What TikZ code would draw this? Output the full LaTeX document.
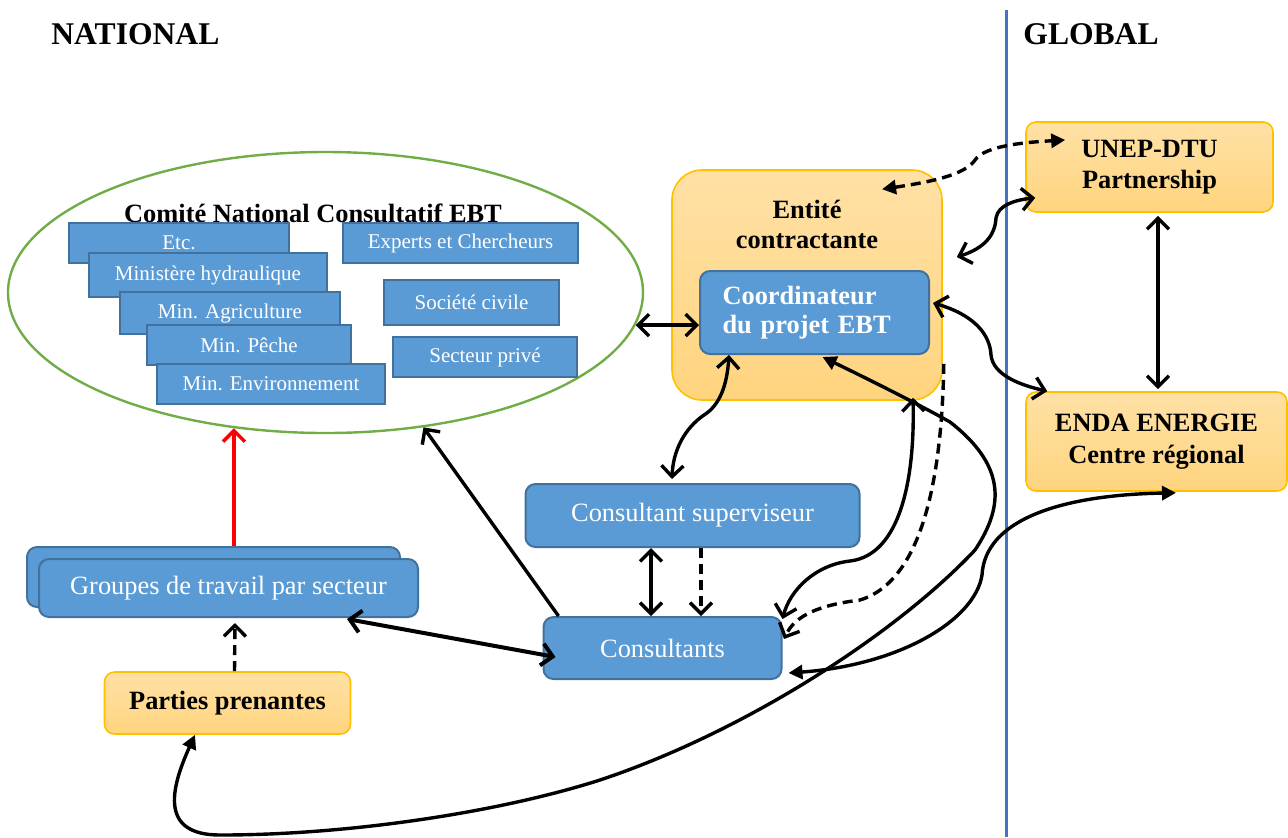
\documentclass[tikz,border=0pt]{standalone}
\usepackage{fontspec}
\setmainfont{Liberation Serif}
\usetikzlibrary{arrows.meta,calc,shapes.geometric}
\definecolor{boxblue}{HTML}{5B9BD5}
\definecolor{boxline}{HTML}{41719C}
\definecolor{orgtop}{HTML}{FFE1A6}
\definecolor{orgbot}{HTML}{FFD47E}
\definecolor{orgline}{HTML}{FFC000}
\definecolor{ellgreen}{HTML}{70AD47}
\definecolor{sepblue}{HTML}{4472C4}
\tikzset{
  membox/.style={draw=boxline, line width=1pt, fill=boxblue, text=white, inner sep=0pt,
    font=\fontsize{10.5}{12}\selectfont},
  bluebox/.style={draw=boxline, line width=1pt, fill=boxblue, rounded corners=5pt, text=white,
    inner sep=0pt, align=center, font=\fontsize{13.2}{15.5}\selectfont},
  orgbox/.style={draw=orgline, line width=0.8pt, top color=orgtop, bottom color=orgbot,
    rounded corners=5pt, inner sep=0pt, align=center, font=\bfseries\fontsize{13.2}{15.8}\selectfont},
  link/.style={line width=1.7pt},
  dashlink/.style={line width=1.7pt, dash pattern=on 5pt off 3pt},
  ftip/.tip={Triangle[length=7pt,width=7pt]},
  >={Straight Barb[length=5.5pt,width=11pt]}
}
\begin{document}
\begin{tikzpicture}[x=0.5pt,y=-0.5pt]
\useasboundingbox (0,0) rectangle (1288,837);
\draw[sepblue, line width=1.5pt] (1006,10) -- (1006,837);
\node[anchor=west, inner sep=0pt, font=\bfseries\fontsize{15.8}{18}\selectfont] (natl) at (51,34) {NATIONAL};
\node[anchor=west, inner sep=0pt, font=\bfseries\fontsize{15.8}{18}\selectfont] (glob) at (1023,34) {GLOBAL};

% comite national
\node[draw=ellgreen, line width=1.2pt, ellipse, inner sep=0pt, minimum width=317.5pt, minimum height=140.5pt] (cnc) at (325.5,292.5) {};
\node[font=\bfseries\fontsize{13.2}{15}\selectfont] (cnct) at (313,213) {Comité National Consultatif EBT};
\node[membox, minimum width=110pt, minimum height=20pt] (etc) at (179,243) {Etc.};
\node[membox, minimum width=119pt, minimum height=22pt] (minh) at (208,275) {Ministère hydraulique};
\node[membox, minimum width=110pt, minimum height=21pt] (agri) at (230,313) {Min. Agriculture};
\node[membox, minimum width=102pt, minimum height=20pt] (peche) at (249,345) {Min. Pêche};
\node[membox, minimum width=114pt, minimum height=20pt] (envi) at (271,384) {Min. Environnement};
\node[membox, minimum width=117.5pt, minimum height=20pt] (expt) at (460.5,243) {Experts et Chercheurs};
\node[membox, minimum width=87.5pt, minimum height=22.5pt] (civil) at (471.5,302.5) {Société civile};
\node[membox, minimum width=92pt, minimum height=20pt] (prive) at (485,357) {Secteur privé};

% entite et coordinateur
\node[orgbox, rounded corners=15pt, minimum width=135pt, minimum height=115pt] (ent) at (807,285) {};
\node[align=center, font=\bfseries\fontsize{13.2}{15}\selectfont] (entt) at ($(ent.north)+(0,55)$) {Entité\\contractante};
\node[bluebox, minimum width=114.5pt, minimum height=41.5pt, text width=92pt, align=left,
  font=\bfseries\fontsize{13.2}{14.5}\selectfont] (coord) at (814.5,312.5) {Coordinateur\\du projet EBT};

% global
\node[orgbox, minimum width=123.5pt, minimum height=45pt] (unep) at (1149.5,167) {UNEP-DTU\\Partnership};
\node[orgbox, minimum width=130.5pt, minimum height=49.5pt] (enda) at (1156.5,441.5) {ENDA ENERGIE\\Centre régional};

% consultants
\node[bluebox, minimum width=167pt, minimum height=31.5pt] (sup) at (692.5,515.5) {Consultant superviseur};
\node[bluebox, minimum width=119pt, minimum height=31pt] (cons) at (662.5,648) {Consultants};
\node[bluebox, minimum width=186.5pt, minimum height=30pt] (grpb) at (213.5,577) {};
\node[bluebox, minimum width=189.5pt, minimum height=29pt] (grp) at (228.5,588) {Groupes de travail par secteur};
\node[orgbox, minimum width=123pt, minimum height=31pt] (pp) at (227.5,703) {Parties prenantes};

% liens
\draw[link, red, ->] (cnc.236 |- grpb.north) -- (cnc.236);
\draw[dashlink, ->] ($(pp.north)+(7,0)$) -- ($(grp.south)+(6.5,5)$);
\draw[link, line width=2pt, <->] ($(grp.south east)+(-72,1)$) -- ($(cons.west)+(13,9)$);
\draw[link, ->] ($(cons.north west)+(16,0)$) -- (cnc.306);
\draw[link, <->] (cnc.354) -- (coord.west |- cnc.354);
\draw[link, <->] ($(coord.south west)+(30,0)$) .. controls (727,385) and (720,405) .. (704,415)
  .. controls (685,428) and (673,450) .. ($(sup.north west)+(147.5,-4)$);
\draw[link, <->] ($(sup.south)+(-41.5,0)$) -- ($(cons.north)+(-11.5,0)$);
\draw[dashlink, ->] ($(sup.south)+(8.5,0)$) -- ($(cons.north)+(38.5,0)$);
\draw[link, <->] ($(cons.north east)+(0,3)$) .. controls (790,590) and (815,565) .. (850,561)
  .. controls (900,555) and (915,480) .. ($(ent.south)+(106,-3)$);
\draw[dashlink, ->] ($(ent.south east)+(1,-37)$) .. controls (942,470) and (925,580) .. (860,600)
  .. controls (820,605) and (795,615) .. ($(cons.north east)+(1.5,23)$);
\draw[link, ftip-ftip] ($(pp.south)+(-32.5,0)$) .. controls (170,790) and (160,835) .. (220,835)
  .. controls (350,835) and (500,812) .. (600,780)
  .. controls (750,730) and (900,630) .. (975,550)
  .. controls (1005,505) and (1005,465) .. (950,422)
  .. controls (920,405) and (870,380) .. ($(coord.south)+(8,2)$);
\draw[link, ftip-ftip] ($(cons.south east)+(6,-7)$) .. controls (900,665) and (975,620) .. (982,575)
  .. controls (985,520) and (1060,495) .. ($(enda.south)+(19.5,1)$);
\draw[dashlink, ftip-ftip] ($(ent.north)+(75,20)$) .. controls (930,182) and (965,175) .. (975,160)
  .. controls (985,145) and (1030,142) .. ($(unep.west)+(40,-27)$);
\draw[link, <->] ($(ent.east)+(14,-28)$) .. controls (985,248) and (995,235) .. (996,218)
  .. controls (998,205) and (1015,200) .. ($(unep.south west)+(10,-15)$);
\draw[link, <->] ($(coord.east)+(3,-9.5)$) .. controls (975,315) and (990,335) .. (991,355)
  .. controls (993,375) and (1020,385) .. ($(enda.north west)+(22,0)$);
\draw[link, <->] ($(unep.south)+(8.5,3)$) -- ($(enda.north)+(1.5,-2)$);
\end{tikzpicture}
\end{document}
